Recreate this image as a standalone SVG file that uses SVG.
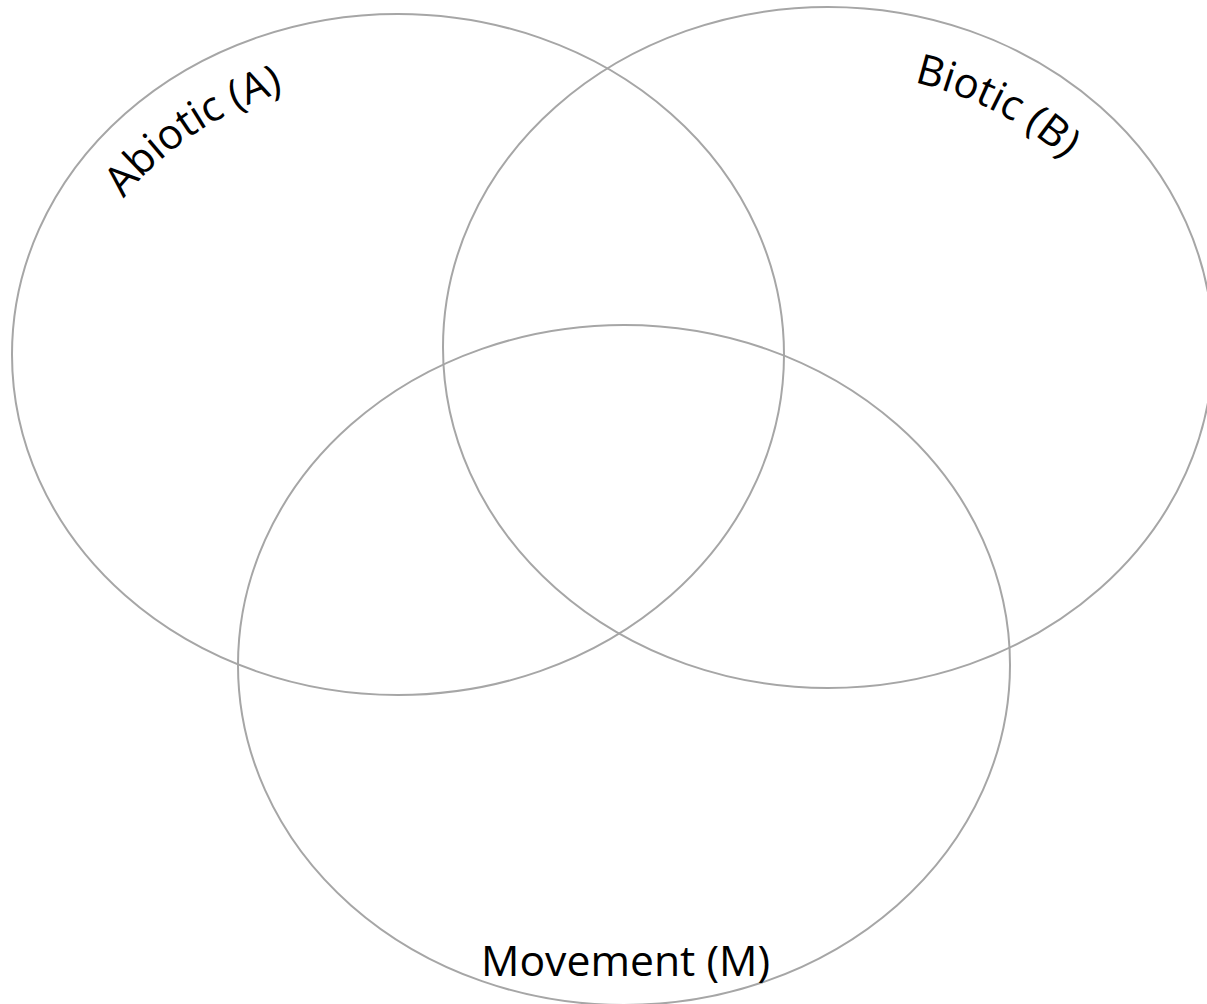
<svg xmlns="http://www.w3.org/2000/svg" width="1207" height="1004" viewBox="0 0 1207 1004">
<style>
.set{fill:none;stroke:#a6a6a6;stroke-width:2}
.lbl{font-family:"Open Sans","Liberation Sans",sans-serif;font-size:42px;fill:#000}
</style>
<defs>
<path id="arcA" d="M 68,354.5 A 330 280 0 0 1 728,354.5"/>
<path id="arcB" d="M 503,347.5 A 325 275 0 0 1 1153,347.5"/>
</defs>
<rect width="1207" height="1004" fill="#fff"/>
<g id="setA">
<ellipse class="set" cx="398" cy="354.5" rx="386" ry="340.5"/>
<text class="lbl" text-anchor="middle"><textPath href="#arcA" startOffset="266" textLength="195" lengthAdjust="spacing">Abiotic (A)</textPath></text>
</g>
<g id="setB">
<ellipse class="set" cx="828" cy="347.5" rx="385" ry="340.5"/>
<text class="lbl" text-anchor="middle"><textPath href="#arcB" startOffset="644" textLength="171" lengthAdjust="spacing">Biotic (B)</textPath></text>
</g>
<g id="setM">
<ellipse class="set" cx="624" cy="665" rx="386" ry="340"/>
<text class="lbl" x="625.5" y="976" text-anchor="middle" textLength="289" lengthAdjust="spacingAndGlyphs">Movement (M)</text>
</g>
<g id="connectors"></g>
</svg>
